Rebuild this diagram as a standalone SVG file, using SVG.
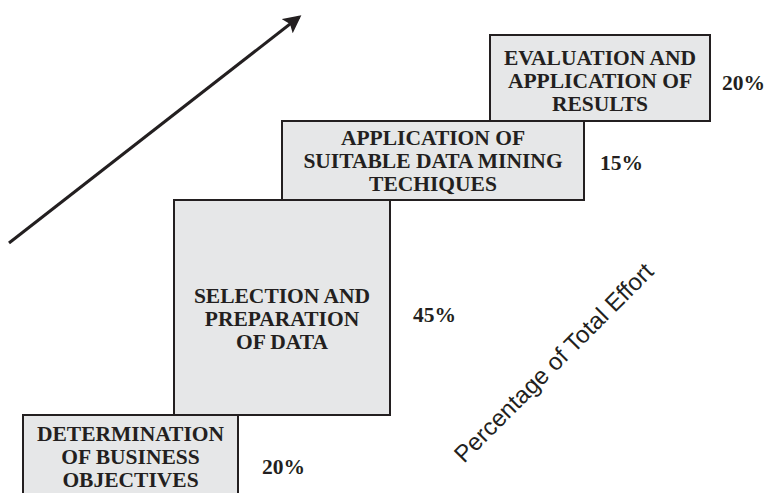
<svg xmlns="http://www.w3.org/2000/svg" width="769" height="493" viewBox="0 0 769 493">
<defs>
<style>
.box{fill:#e6e7e8;stroke:#231f20;stroke-width:2}
.lbl{font-family:"Liberation Serif","Times New Roman",serif;font-weight:bold;font-size:21.5px;fill:#231f20;text-anchor:middle}
.pct{font-family:"Liberation Serif","Times New Roman",serif;font-weight:bold;font-size:21.5px;fill:#231f20}
.axis{font-family:"Liberation Sans",Arial,sans-serif;font-size:24px;fill:#231f20}
</style>
<marker id="ah" markerWidth="6" markerHeight="6" refX="5" refY="3" orient="auto" markerUnits="strokeWidth">
<path d="M0,0 L6,3 L0,6 L1.2,3 Z" fill="#231f20"/>
</marker>
</defs>
<rect width="769" height="493" fill="#ffffff"/>
<g id="connectors">
<line x1="9" y1="243" x2="299" y2="17" stroke="#231f20" stroke-width="3" marker-end="url(#ah)"/>
</g>
<g id="node-determination">
<rect class="box" x="23" y="415" width="215" height="90"/>
<text class="lbl"><tspan x="130.5" y="441">DETERMINATION</tspan><tspan x="130.5" y="464">OF BUSINESS</tspan><tspan x="130.5" y="487">OBJECTIVES</tspan></text>
<text class="pct" x="262" y="474">20%</text>
</g>
<g id="node-selection">
<rect class="box" x="174" y="200" width="216" height="215"/>
<text class="lbl"><tspan x="282" y="303">SELECTION AND</tspan><tspan x="282" y="326">PREPARATION</tspan><tspan x="282" y="349">OF DATA</tspan></text>
<text class="pct" x="413" y="322">45%</text>
</g>
<g id="node-application">
<rect class="box" x="282" y="121" width="302" height="79"/>
<text class="lbl"><tspan x="433" y="145">APPLICATION OF</tspan><tspan x="433" y="168">SUITABLE DATA MINING</tspan><tspan x="433" y="191">TECHIQUES</tspan></text>
<text class="pct" x="600" y="170">15%</text>
</g>
<g id="node-evaluation">
<rect class="box" x="490" y="35" width="220" height="86"/>
<text class="lbl"><tspan x="600" y="65">EVALUATION AND</tspan><tspan x="600" y="88">APPLICATION OF</tspan><tspan x="600" y="111">RESULTS</tspan></text>
<text class="pct" x="722" y="90">20%</text>
</g>
<g id="axis-label">
<text class="axis" transform="translate(464,464) rotate(-45)">Percentage of Total Effort</text>
</g>
</svg>
